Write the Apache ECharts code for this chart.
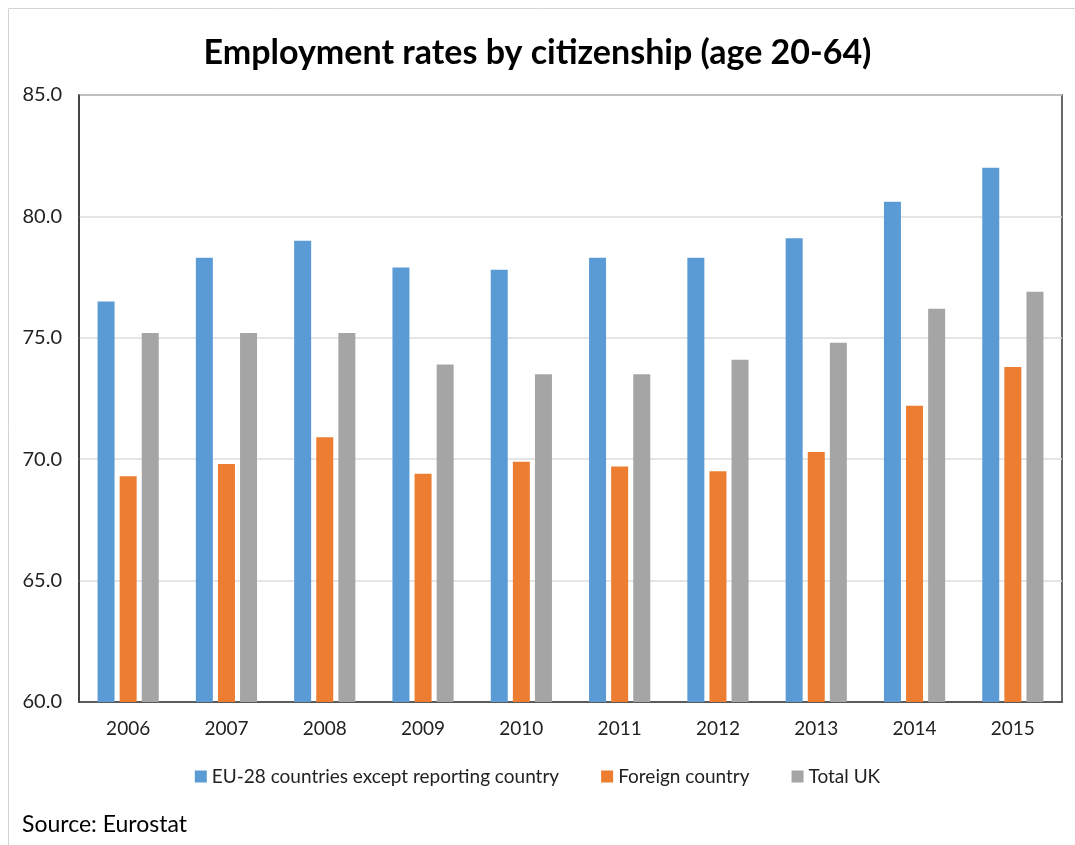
<!DOCTYPE html>
<html>
<head>
<meta charset="utf-8">
<script src="https://cdn.jsdelivr.net/npm/echarts@6/dist/echarts.min.js"></script>
<style>
  html, body { margin: 0; padding: 0; background: #fff; }
  #chart { width: 1075px; height: 845px; }
</style>
</head>
<body>
<div id="chart"></div>
<script>
// données
var years = ['2006', '2007', '2008', '2009', '2010', '2011', '2012', '2013', '2014', '2015'];
var euCountries = [76.5, 78.3, 79.0, 77.9, 77.8, 78.3, 78.3, 79.1, 80.6, 82.0];
var foreignCountry = [69.3, 69.8, 70.9, 69.4, 69.9, 69.7, 69.5, 70.3, 72.2, 73.8];
var totalUK = [75.2, 75.2, 75.2, 73.9, 73.5, 73.5, 74.1, 74.8, 76.2, 76.9];

var fontFamily = 'Lato, "Open Sans", sans-serif';
var color_blue = '#5b9bd5';
var color_orange = '#ed7d31';
var color_grey = '#a5a5a5';

function barSerie(name, data, color) {
  return {
    name: name,
    type: 'bar',
    data: data,
    barWidth: 17,
    barGap: '30%',
    itemStyle: {color: color}
  };
}

var employment = echarts.init(document.getElementById('chart'), null, {renderer: 'canvas'});
var employmentOption = {
  animation: false,
  title: {
    text: 'Employment rates by citizenship (age 20-64)',
    left: 'center',
    top: 31,
    textStyle: {
      fontFamily: fontFamily,
      fontSize: 34,
      fontWeight: 'bold',
      color: '#000'
    }
  },
  graphic: [{
    type: 'rect',
    shape: {x: 8.5, y: 8.5, width: 1200, height: 1000},
    style: {fill: 'none', stroke: '#d4d4d4', lineWidth: 1},
    silent: true
  }, {
    type: 'text',
    left: 22,
    top: 813,
    style: {
      text: 'Source: Eurostat',
      fontFamily: fontFamily,
      fontSize: 23,
      fill: '#000'
    }
  }],
  grid: {
    left: 79,
    right: 13,
    top: 95,
    bottom: 143,
    show: true,
    borderColor: '#3a3a3a',
    borderWidth: 1.5
  },
  legend: {
    top: 762,
    left: 'center',
    icon: 'rect',
    itemWidth: 12,
    itemHeight: 12,
    itemGap: 42,
    textStyle: {
      fontFamily: fontFamily,
      fontSize: 19,
      color: '#222'
    }
  },
  xAxis: {
    type: 'category',
    data: years,
    axisTick: {show: false},
    axisLine: {show: true, lineStyle: {color: '#3a3a3a', width: 1.5}},
    axisLabel: {
      fontFamily: fontFamily,
      fontSize: 19,
      color: '#222',
      margin: 17
    }
  },
  yAxis: {
    type: 'value',
    min: 60,
    max: 85,
    interval: 5,
    axisLine: {show: true, lineStyle: {color: '#3a3a3a', width: 1.5}},
    axisTick: {show: false},
    splitLine: {lineStyle: {color: '#dcdcdc', width: 1.5}},
    axisLabel: {
      fontFamily: fontFamily,
      fontSize: 20,
      color: '#222',
      margin: 17,
      formatter: function (v) { return v.toFixed(1); }
    }
  },
  series: [
    barSerie('EU-28 countries except reporting country', euCountries, color_blue),
    barSerie('Foreign country', foreignCountry, color_orange),
    barSerie('Total UK', totalUK, color_grey)
  ]
};

employmentOption && employment.setOption(employmentOption);
</script>
</body>
</html>
